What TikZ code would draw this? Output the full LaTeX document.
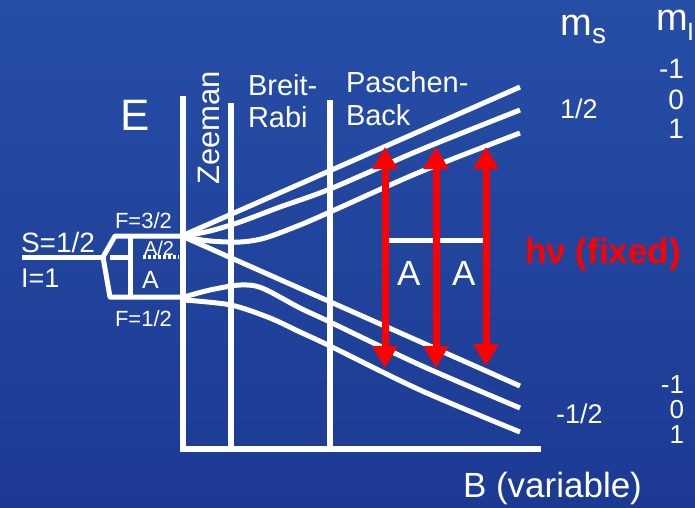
\documentclass[tikz,border=0pt]{standalone}
\usepackage{fontspec}
\setmainfont{Liberation Sans}
\usetikzlibrary{arrows.meta}
\newcommand{\fsz}[1]{\fontsize{#1}{#1}\selectfont}
\definecolor{bgtop}{RGB}{38,78,166}
\definecolor{bgbot}{RGB}{28,58,148}
\definecolor{hvred}{RGB}{255,0,0}
\tikzset{
  bar/.style={white, line width=6pt},
  lvl/.style={white, line width=5pt, line join=round},
  redarrow/.style={hvred, line width=7pt, {Triangle[length=22pt,width=24pt]}-{Triangle[length=22pt,width=24pt]}},
  lbl/.style={text=white, inner sep=0pt, outer sep=0pt, anchor=base west},
  lble/.style={text=white, inner sep=0pt, outer sep=0pt, anchor=base east},
}
\begin{document}
\begin{tikzpicture}[x=1pt,y=-1pt]
\useasboundingbox (0,0) rectangle (695,507);
\fill[top color=bgtop, bottom color=bgbot] (0,0) rectangle (695,507);

% axes and regime bars
\coordinate (axT) at (183,96);
\coordinate (axO) at (183,452);
\coordinate (axL) at (180,449);
\coordinate (axR) at (541,449);
\draw[bar] (axT) -- (axO);
\draw[bar] (axL) -- (axR);
\coordinate (zT) at (231,103);
\coordinate (zB) at (231,449);
\draw[bar] (zT) -- (zB);
\coordinate (brT) at (330,100);
\coordinate (brB) at (330,449);
\draw[bar] (brT) -- (brB);

% zero-field levels
\coordinate (s0) at (22,257);
\coordinate (s1) at (103,257);
\coordinate (f3a) at (115,236);
\coordinate (f3b) at (186,236);
\coordinate (f1a) at (110,297);
\coordinate (f1b) at (186,297);
\coordinate (vA) at (130,236);
\coordinate (vB) at (130,297);
\coordinate (h0) at (110,257);
\coordinate (h1) at (130,257);
\coordinate (d0) at (143,257);
\coordinate (d1) at (179,257);
\draw[lvl] (s0) -- (s1);
\draw[lvl] (s1) -- (f3a) -- (f3b);
\draw[lvl] (s1) -- (f1a) -- (f1b);
\draw[lvl] (vA) -- (vB);
\draw[lvl] (h0) -- (h1);
\draw[white, line width=4pt, dash pattern=on 3pt off 2pt] (d0) -- (d1);

% field-dependent levels
\coordinate (L1a) at (184,235);
\coordinate (L1b) at (520,87);
\draw[lvl] (L1a) -- (L1b);
\draw[lvl] plot[smooth, tension=0.5] coordinates {(184,236) (210,231) (240,222) (280,207) (330,189) (420,150) (520,110)};
\draw[lvl] plot[smooth, tension=0.5] coordinates {(184,237) (210,241) (240,242) (265,238) (300,225) (330,212) (420,172) (520,133)};
\coordinate (L4a) at (184,237);
\coordinate (L4b) at (520,386);
\draw[lvl] (L4a) -- (L4b);
\draw[lvl] plot[smooth, tension=0.5] coordinates {(184,297) (210,290) (240,285) (262,288) (300,308) (330,322) (420,365) (520,408)};
\draw[lvl] plot[smooth, tension=0.5] coordinates {(184,300) (231,305) (270,318) (300,332) (330,346) (420,390) (520,432)};

% A spacing bar and arrows
\coordinate (aL) at (385,240);
\coordinate (aR) at (486,240);
\draw[white, line width=5pt] (aL) -- (aR);
\coordinate (r1t) at (385,147); \coordinate (r1b) at (385,368);
\coordinate (r2t) at (436,147); \coordinate (r2b) at (436,368);
\coordinate (r3t) at (486,147); \coordinate (r3b) at (486,366);
\draw[redarrow] (r1t) -- (r1b);
\draw[redarrow] (r2t) -- (r2b);
\draw[redarrow] (r3t) -- (r3b);

% labels
\node[lbl, font=\fsz{44}] (E) at (120,130) {E};
\node[text=white, inner sep=0pt, rotate=90, font=\fsz{31}] (zee) at (208.5,128) {Zeeman};
\node[lbl, font=\fsz{29}] (br1) at (248,95) {Breit-};
\node[lbl, font=\fsz{29}] (br2) at (248,127) {Rabi};
\node[lbl, font=\fsz{29}] (pb1) at (346,92) {Paschen-};
\node[lbl, font=\fsz{29}] (pb2) at (346,125) {Back};
\node[lbl, font=\fsz{38}] (ms) at (560,35) {m};
\node[lbl, font=\fsz{28}] (mss) at (592,43) {s};
\node[lbl, font=\fsz{38}] (mi) at (656,30) {m};
\node[lbl, font=\fsz{25}] (mis) at (687,40) {I};
\node[lble, font=\fsz{28}] (u1) at (684,78) {-1};
\node[lble, font=\fsz{28}] (u2) at (684,109) {0};
\node[lble, font=\fsz{28}] (u3) at (684,138) {1};
\node[lbl, font=\fsz{27}] (up) at (560,118) {1/2};
\node[lbl, font=\fsz{27}] (dn) at (556,423) {-1/2};
\node[lble, font=\fsz{26}] (d1n) at (684,393) {-1};
\node[lble, font=\fsz{26}] (d2n) at (684,418) {0};
\node[lble, font=\fsz{26}] (d3n) at (684,443) {1};
\node[lbl, font=\fsz{35}] (B) at (463,497) {B (variable)};
\node[inner sep=0pt, anchor=base west, text=hvred, font=\bfseries\fsz{35}] (hv) at (525,263) {hν (fixed)};
\node[lbl, font=\fsz{28}] (S) at (21,252) {S=1/2};
\node[lbl, font=\fsz{27}] (I) at (21,287) {I=1};
\node[lbl, font=\fsz{22}] (F3) at (115,228) {F=3/2};
\node[lbl, font=\fsz{22}] (F1) at (115,326) {F=1/2};
\node[lbl, font=\fsz{20}] (A2) at (144,255) {A/2};
\node[lbl, font=\fsz{25}] (As) at (142,288) {A};
\node[lbl, font=\fsz{35}] (A1) at (397,285) {A};
\node[lbl, font=\fsz{35}] (A3) at (452,285) {A};
\end{tikzpicture}
\end{document}
